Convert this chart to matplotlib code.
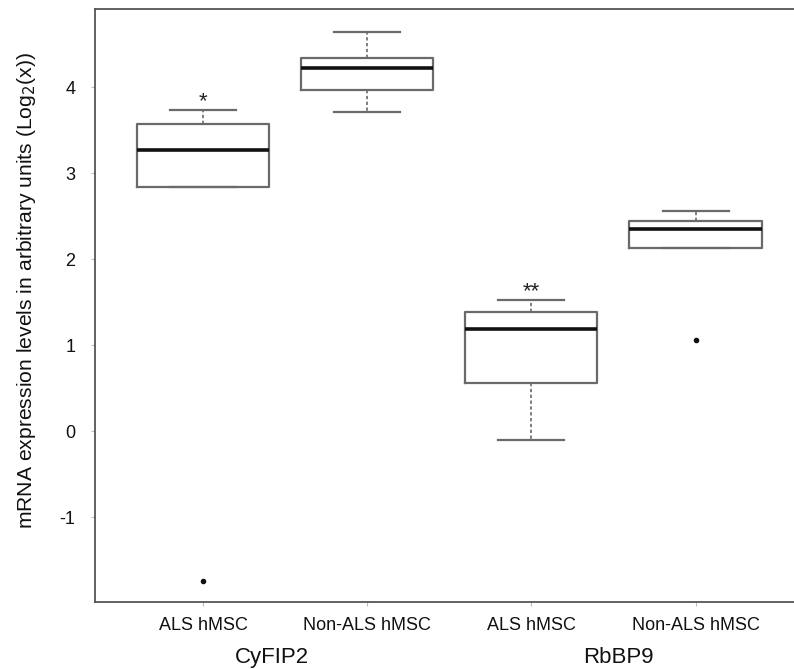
"""Boxplots of CyFIP2 and RbBP9 mRNA expression in ALS vs non-ALS hMSC."""

import matplotlib

matplotlib.use("Agg")
import matplotlib.pyplot as plt

plt.rcParams["font.family"] = ["Liberation Sans", "DejaVu Sans"]

# Box statistics (log2 units)
groups = ["ALS hMSC", "Non-ALS hMSC", "ALS hMSC", "Non-ALS hMSC"]
genes = ["CyFIP2", "RbBP9"]
whisker_low = [2.845, 3.716, -0.105, 2.135]
q1 = [2.845, 3.969, 0.558, 2.135]
median = [3.274, 4.221, 1.186, 2.350]
q3 = [3.570, 4.344, 1.384, 2.442]
whisker_high = [3.736, 4.647, 1.523, 2.565]
outliers = [[-1.737], [], [], [1.058]]
stars = ["*", "", "**", ""]

positions = [1, 2, 3, 4]
gene_pos = [1.42, 3.53]

stats = []
for i in range(len(groups)):
    stats.append(
        {
            "whislo": whisker_low[i],
            "q1": q1[i],
            "med": median[i],
            "q3": q3[i],
            "whishi": whisker_high[i],
            "fliers": outliers[i],
        }
    )

fig = plt.figure(figsize=(7.94, 6.69), dpi=100)
ax = fig.add_axes([0.1196, 0.1, 0.8804, 0.8865])

edge = "#6a6a6a"
ax.bxp(
    stats,
    positions=positions,
    widths=0.805,
    showfliers=True,
    boxprops={"color": edge, "linewidth": 1.6},
    whiskerprops={"color": edge, "linewidth": 1.2, "linestyle": (0, (2.0, 1.5))},
    capprops={"color": edge, "linewidth": 1.6},
    medianprops={"color": "#111111", "linewidth": 2.6},
    flierprops={
        "marker": "o",
        "markersize": 3,
        "markerfacecolor": "#111111",
        "markeredgecolor": "#111111",
    },
)

for x, top, s in zip(positions, whisker_high, stars):
    if s:
        ax.text(x, top - 0.02, s, ha="center", va="bottom", fontsize=16,
                color="#222222")

ax.set_xlim(0.34, 4.6)
ax.set_ylim(-1.985, 4.91)
ax.set_yticks([-1, 0, 1, 2, 3, 4])
ax.set_yticklabels(["-1", "0", "1", "2", "3", "4"])
ax.set_xticks(positions)
ax.set_xticklabels(groups)
ax.tick_params(axis="both", length=3, width=0.8, color="#bbbbbb",
               labelsize=13, labelcolor="#111111")
ax.tick_params(axis="x", pad=8)
ax.tick_params(axis="y", pad=11)

for side in ["left", "bottom", "top"]:
    ax.spines[side].set_color("#555555")
    ax.spines[side].set_linewidth(1.3)
ax.spines["right"].set_visible(False)

for g, xp in zip(genes, gene_pos):
    ax.text(xp, -0.075, g, transform=ax.get_xaxis_transform(), ha="center",
            va="top", fontsize=16, color="#111111")

ax.set_ylabel("mRNA expression levels in arbitrary units (Log$_2$(x))",
              fontsize=15.2, color="#111111")
# label centre sits a little above the axes middle in the reference
ax.yaxis.set_label_coords(-0.081, 0.526)

fig.savefig("out.png", dpi=100)
plt.close(fig)
